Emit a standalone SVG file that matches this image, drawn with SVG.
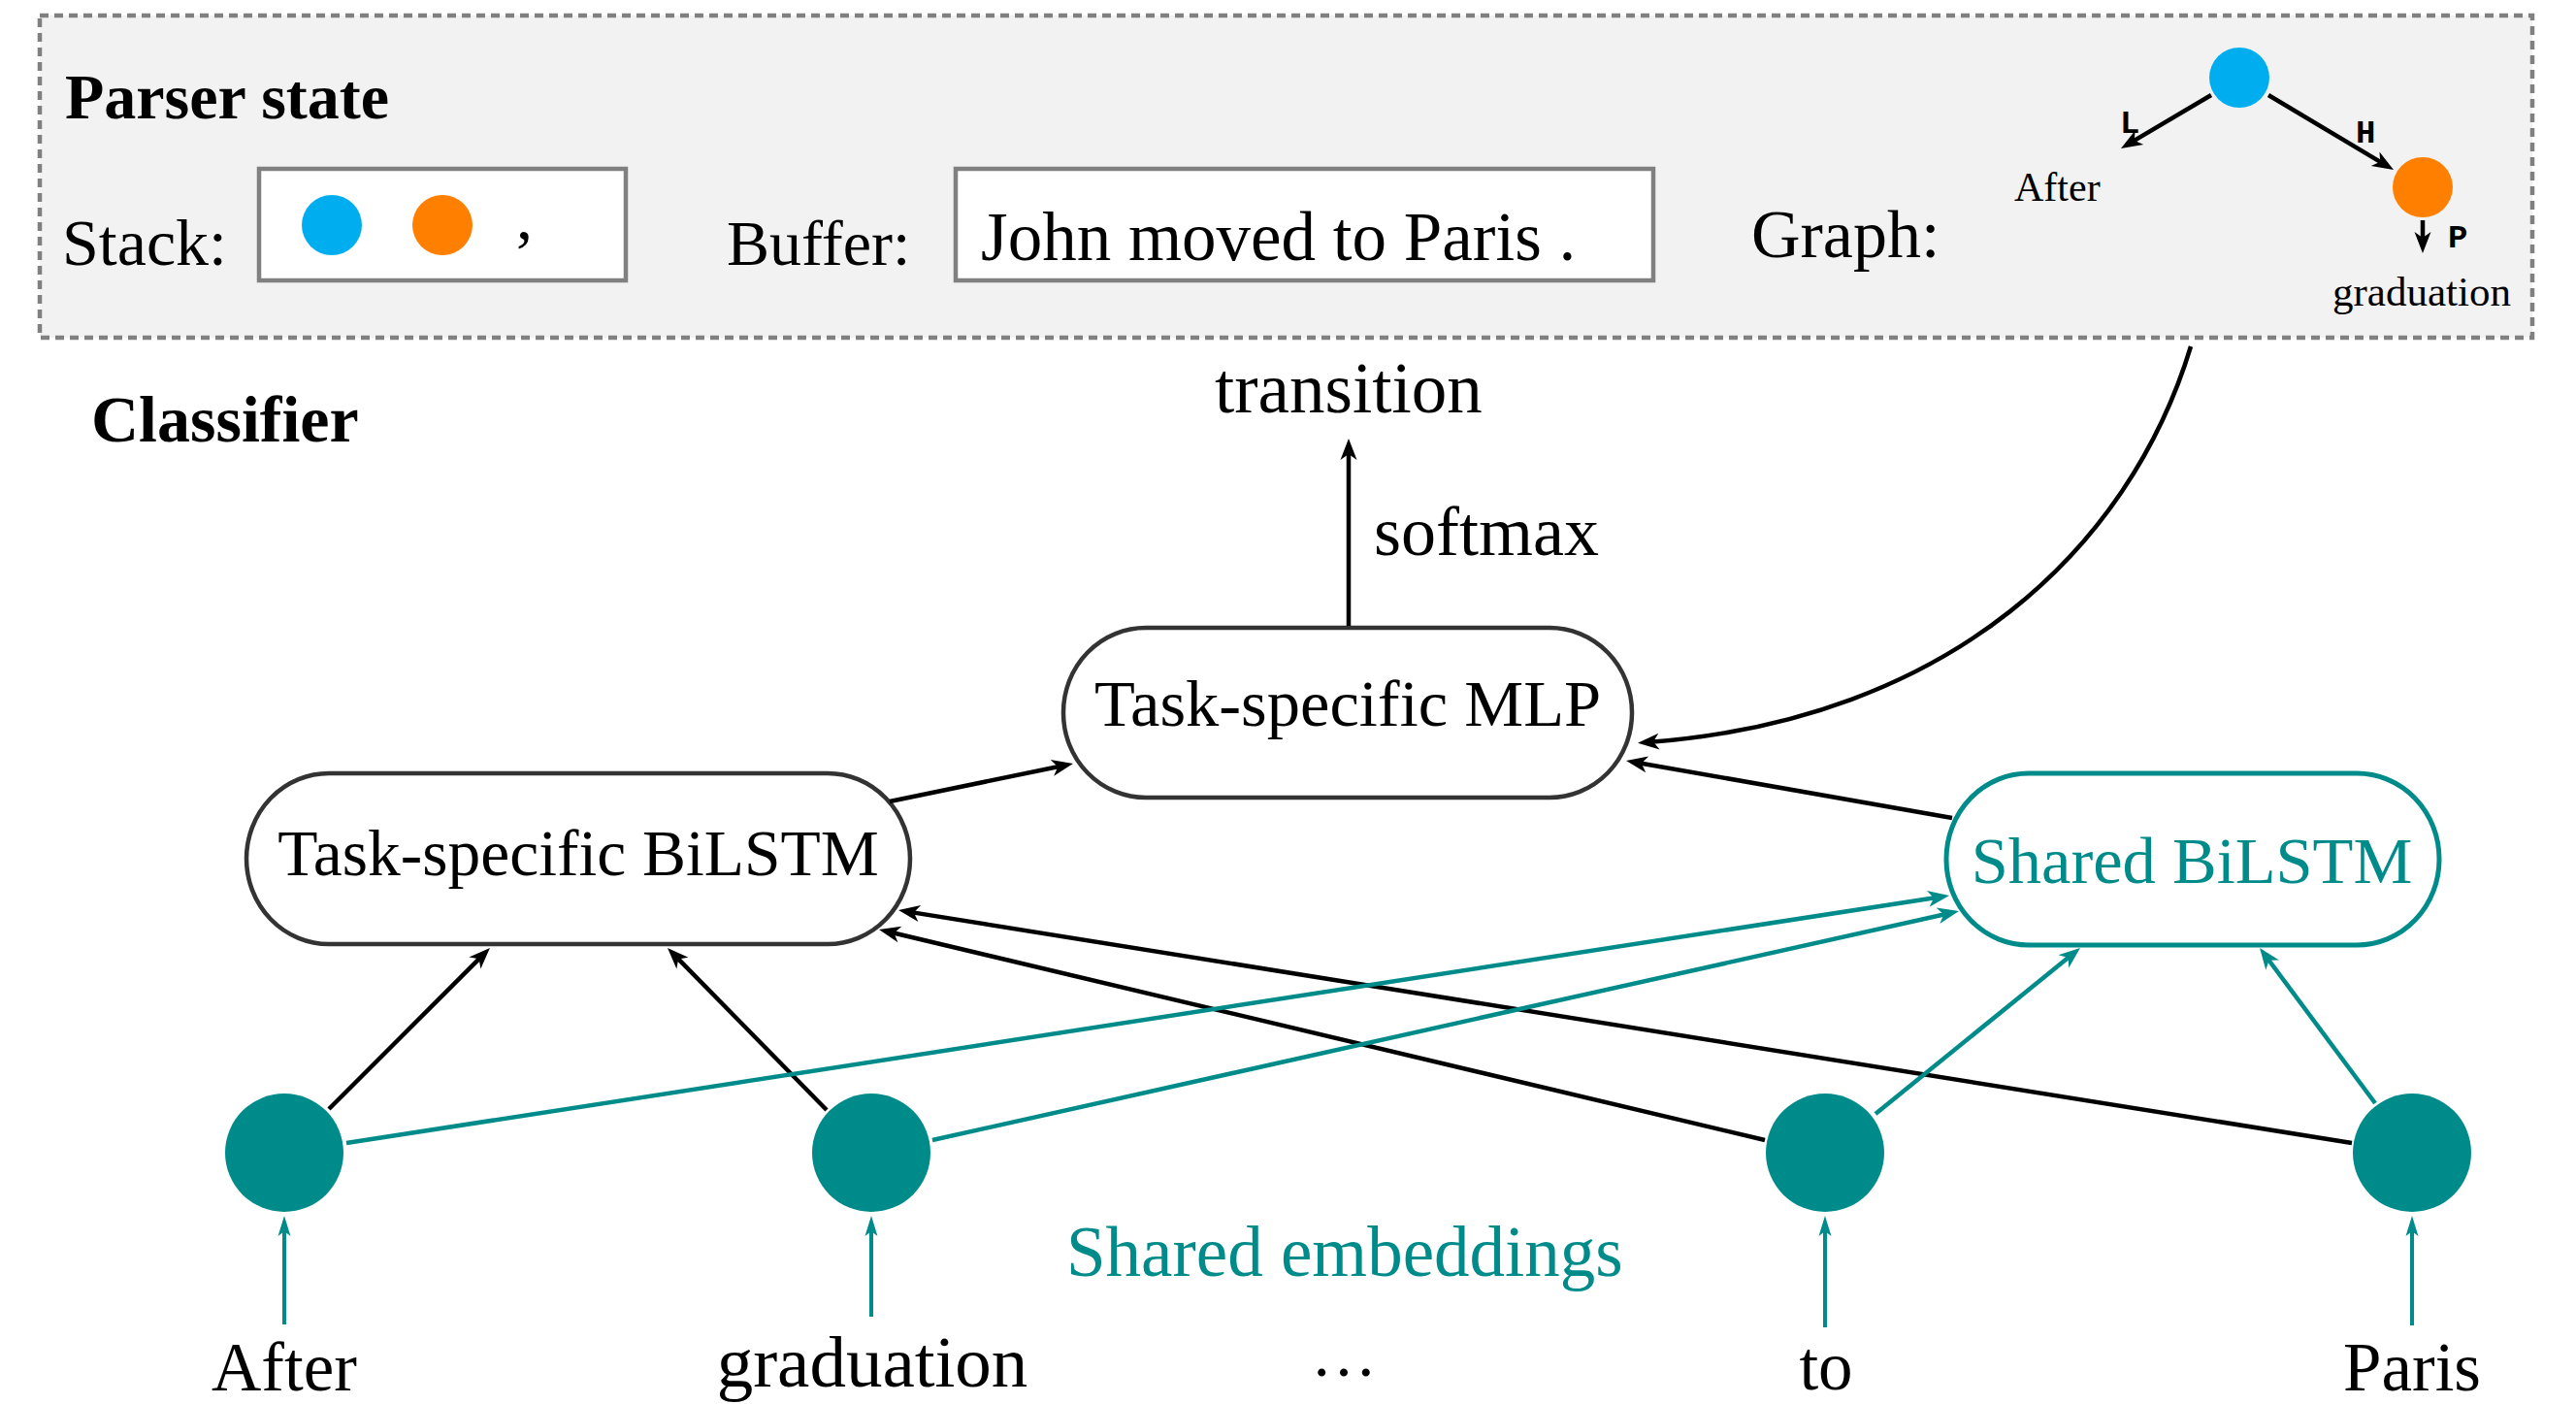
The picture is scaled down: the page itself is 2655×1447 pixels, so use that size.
<svg xmlns="http://www.w3.org/2000/svg" width="2655" height="1447" viewBox="0 0 2655 1447">
  <style>
    text { font-family: "Liberation Serif", "Times New Roman", serif; fill: #000; }
    .bold { font-weight: bold; }
    .teal-text { fill: #008b8b; }
    .mono { font-family: "Liberation Mono", "Courier New", monospace; font-weight: bold; font-size: 34px; }
    .panel { fill: #f2f2f2; stroke: #808080; stroke-width: 4.5; stroke-dasharray: 9 6; }
    .slot { fill: #ffffff; stroke: #808080; stroke-width: 4.5; }
    .node { fill: #ffffff; stroke: #333333; stroke-width: 4.5; }
    .node-shared { fill: #ffffff; stroke: #008b8b; stroke-width: 5; }
    .emb { fill: #008b8b; }
    .edge { fill: none; stroke: #000; stroke-width: 4.5; marker-end: url(#arrow); }
    .edge-teal { fill: none; stroke: #008b8b; stroke-width: 4.5; marker-end: url(#arrow-teal); }
    .input { fill: none; stroke: #008b8b; stroke-width: 4; marker-end: url(#arrow-input); }
  </style>
  <defs>
    <marker id="arrow" markerUnits="userSpaceOnUse" viewBox="-14 -10 26 20" markerWidth="26" markerHeight="20" refX="0" refY="0" orient="auto">
      <path d="M10,0 L-12,-8.5 L-6,0 L-12,8.5 Z" fill="#000"/>
    </marker>
    <marker id="arrow-teal" markerUnits="userSpaceOnUse" viewBox="-14 -10 26 20" markerWidth="26" markerHeight="20" refX="0" refY="0" orient="auto">
      <path d="M10,0 L-12,-8.5 L-6,0 L-12,8.5 Z" fill="#008b8b"/>
    </marker>
    <marker id="arrow-input" markerUnits="userSpaceOnUse" viewBox="-14 -10 26 20" markerWidth="26" markerHeight="20" refX="0" refY="0" orient="auto">
      <path d="M10,0 L-11,-6.5 L-6,0 L-11,6.5 Z" fill="#008b8b"/>
    </marker>
  </defs>

  <!-- Parser state panel -->
  <g id="parser-state">
    <rect class="panel" x="41" y="16" width="2569" height="332"/>
    <text class="bold" x="67" y="122" font-size="66">Parser state</text>

    <g id="stack">
      <text x="64" y="273" font-size="68">Stack:</text>
      <rect class="slot" x="267" y="174" width="378" height="115"/>
      <circle cx="342" cy="232" r="31" fill="#00aeef"/>
      <circle cx="456" cy="232" r="31" fill="#ff8000"/>
      <text x="532" y="246" font-size="68">,</text>
    </g>

    <g id="buffer">
      <text x="749" y="273" font-size="66">Buffer:</text>
      <rect class="slot" x="985" y="174" width="719" height="115"/>
      <text x="1011" y="268" font-size="71">John moved to Paris .</text>
    </g>

    <g id="graph">
      <text x="1805" y="265" font-size="70">Graph:</text>
      <circle cx="2308" cy="80" r="31" fill="#00aeef"/>
      <circle cx="2497" cy="193" r="31" fill="#ff8000"/>
      <line class="edge" x1="2279" y1="98" x2="2194.6" y2="147.9"/>
      <line class="edge" x1="2338" y1="98" x2="2458.4" y2="169.9"/>
      <line class="edge" x1="2497" y1="227" x2="2497" y2="251"/>
      <text class="mono" x="2185" y="137">L</text>
      <text class="mono" x="2428" y="147">H</text>
      <text class="mono" x="2523" y="255">P</text>
      <text x="2076" y="207" font-size="42">After</text>
      <text x="2404" y="315" font-size="43">graduation</text>
    </g>
  </g>

  <text class="bold" x="94" y="455" font-size="68">Classifier</text>

  <!-- Output -->
  <g id="transition">
    <text x="1252" y="425" font-size="73">transition</text>
  </g>
  <text x="1416" y="572" font-size="72">softmax</text>

  <!-- Network nodes -->
  <g id="mlp">
    <rect class="node" x="1096" y="647" width="586" height="175" rx="85" ry="87"/>
    <text x="1389" y="748" font-size="68.5" text-anchor="middle">Task-specific MLP</text>
  </g>
  <g id="task-bilstm">
    <rect class="node" x="254" y="797" width="684" height="176" rx="85" ry="88"/>
    <text x="596" y="902" font-size="67.5" text-anchor="middle">Task-specific BiLSTM</text>
  </g>
  <g id="shared-bilstm">
    <rect class="node-shared" x="2006" y="797" width="508" height="177" rx="85" ry="88"/>
    <text class="teal-text" x="2259" y="910" font-size="68.5" text-anchor="middle">Shared BiLSTM</text>
  </g>

  <!-- Shared embeddings -->
  <g id="emb-after"><circle class="emb" cx="293" cy="1188" r="61"/></g>
  <g id="emb-graduation"><circle class="emb" cx="898" cy="1188" r="61"/></g>
  <g id="emb-to"><circle class="emb" cx="1881" cy="1188" r="61"/></g>
  <g id="emb-paris"><circle class="emb" cx="2486" cy="1188" r="61"/></g>
  <text class="teal-text" x="1099" y="1315" font-size="73">Shared embeddings</text>

  <!-- Input words -->
  <g id="words">
    <text x="293" y="1433" font-size="71" text-anchor="middle">After</text>
    <text x="899" y="1429" font-size="75" text-anchor="middle">graduation</text>
    <text x="1385" y="1418" font-size="68" text-anchor="middle">…</text>
    <text x="1882" y="1432" font-size="71" text-anchor="middle">to</text>
    <text x="2486" y="1433" font-size="71" text-anchor="middle">Paris</text>
  </g>

  <!-- Connectors -->
  <g id="connectors">
    <!-- word inputs -->
    <line class="input" x1="293" y1="1365" x2="293" y2="1263"/>
    <line class="input" x1="898" y1="1357" x2="898" y2="1263"/>
    <line class="input" x1="1881" y1="1368" x2="1881" y2="1263"/>
    <line class="input" x1="2486" y1="1366" x2="2486" y2="1263"/>

    <!-- embeddings to task-specific BiLSTM -->
    <line class="edge" x1="339" y1="1143" x2="497.9" y2="984.1"/>
    <line class="edge" x1="852" y1="1144" x2="695" y2="984.1"/>
    <line class="edge" x1="1819" y1="1175" x2="915.7" y2="960.3"/>
    <line class="edge" x1="2424" y1="1178" x2="935.9" y2="939.6"/>

    <!-- embeddings to shared BiLSTM -->
    <line class="edge-teal" x1="357" y1="1178" x2="1999.1" y2="924.5"/>
    <line class="edge-teal" x1="961" y1="1175" x2="2009.2" y2="941.2"/>
    <line class="edge-teal" x1="1933" y1="1148" x2="2136.2" y2="983.3"/>
    <line class="edge-teal" x1="2448" y1="1137" x2="2335" y2="985"/>

    <!-- BiLSTMs to MLP -->
    <line class="edge" x1="917" y1="826" x2="1096.2" y2="789"/>
    <line class="edge" x1="2012" y1="843" x2="1685.9" y2="785.7"/>

    <!-- parser state to MLP -->
    <path class="edge" d="M2258,357 C2195,565 2010,742 1698,765"/>

    <!-- MLP to transition -->
    <line class="edge" x1="1390" y1="645" x2="1390" y2="462"/>
  </g>
</svg>
